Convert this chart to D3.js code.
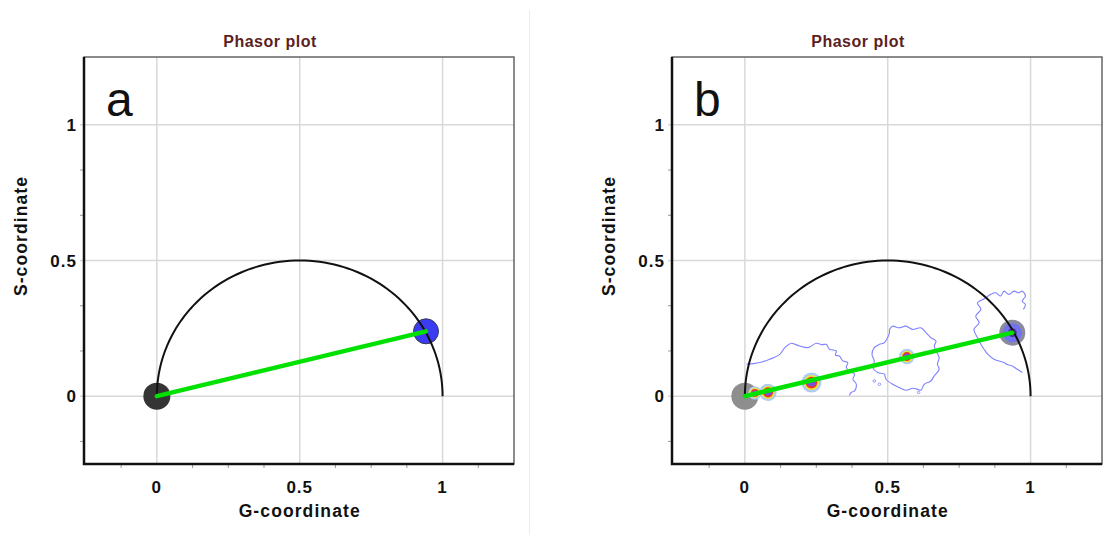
<!DOCTYPE html>
<html>
<head>
<meta charset="utf-8">
<script src="https://cdn.jsdelivr.net/npm/d3@7"></script>
<style>
body { margin: 0; background: #fff; }
svg { display: block; font-family: "Liberation Sans", Arial, sans-serif; }
.pp-tick { font-size: 17px; font-weight: bold; letter-spacing: 1px; fill: #111; }
.pp-axis-label { font-size: 17.5px; font-weight: bold; letter-spacing: 1.1px; fill: #111; }
.pp-title { font-size: 16px; font-weight: bold; letter-spacing: 0.5px; fill: #5c1f1f; }
.pp-letter { font-size: 48px; fill: #111; }
</style>
</head>
<body>
<svg id="chart" width="1103" height="535"></svg>
<script>
'use strict';

// axes
const gDomain = [-0.255, 1.25];
const sDomain = [-0.25, 1.25];
const majorTicks = [0, 0.5, 1];
const tickLabels = ['0', '0.5', '1'];
const minorTicksG = [-0.125, 0.125, 0.25, 0.375, 0.625, 0.75, 0.875, 1.125];
const minorTicksS = [-1 / 6, 1 / 6, 1 / 3, 2 / 3, 5 / 6];

// pure lifetime references joined by the green line
const endpointsA = [[0, 0], [0.942, 0.239]];
const endpointsB = [[0, 0], [0.936, 0.234]];

// density peaks of the measured cells (panel b)
const peakG = [0.035, 0.081, 0.233, 0.567];
const peakS = [0.012, 0.014, 0.05, 0.146];
const peakDensity = [0.45, 0.75, 1, 0.6];

// lowest contour level
const contourLeft = [[0.006, 0.118], [0.03, 0.12], [0.052, 0.124], [0.087, 0.136], [0.122, 0.154], [0.14, 0.179],
    [0.163, 0.195], [0.178, 0.19], [0.192, 0.185], [0.221, 0.179], [0.25, 0.195], [0.27, 0.19], [0.285, 0.191],
    [0.296, 0.173], [0.32, 0.167], [0.317, 0.151], [0.331, 0.148], [0.343, 0.13], [0.36, 0.124], [0.355, 0.105],
    [0.366, 0.093], [0.384, 0.081], [0.378, 0.0625], [0.39, 0.044], [0.384, 0.0195], [0.372, 0.0136], [0.366, 0.002]];
const contourMid = [[0.506, 0.246], [0.517, 0.258], [0.54, 0.252], [0.564, 0.258], [0.587, 0.246], [0.616, 0.252],
    [0.634, 0.234], [0.651, 0.216], [0.669, 0.203], [0.663, 0.185], [0.669, 0.167], [0.68, 0.142], [0.674, 0.118],
    [0.68, 0.099], [0.663, 0.075], [0.651, 0.056], [0.628, 0.044], [0.616, 0.022], [0.6, 0.027], [0.587, 0.029],
    [0.564, 0.022], [0.54, 0.032], [0.517, 0.044], [0.494, 0.0625], [0.488, 0.081], [0.465, 0.087], [0.448, 0.105],
    [0.453, 0.13], [0.445, 0.154], [0.453, 0.179], [0.471, 0.191], [0.488, 0.197], [0.5, 0.216], [0.506, 0.234],
    [0.506, 0.246]];
const contourRight = [[0.971, 0.087], [0.953, 0.099], [0.936, 0.111], [0.92, 0.116], [0.907, 0.124], [0.872, 0.136],
    [0.85, 0.155], [0.837, 0.173], [0.826, 0.191], [0.814, 0.216], [0.802, 0.246], [0.82, 0.271], [0.808, 0.295],
    [0.826, 0.32], [0.814, 0.344], [0.84, 0.36], [0.86, 0.375], [0.878, 0.381], [0.895, 0.369], [0.907, 0.387],
    [0.924, 0.375], [0.942, 0.387], [0.959, 0.381], [0.971, 0.387], [0.982, 0.369], [0.971, 0.35], [0.982, 0.338],
    [0.975, 0.32]];
const contourSpecks = [[0.453, 0.056], [0.471, 0.044], [0.608, 0.014]];

let PhasorPlot = function (params, svg) {
    let _self = this;
    _self.svg = svg;
    _self.offset = params.offset || 0;
    _self.letter = params.letter;
    _self.faded = params.faded || false;
    _self.endpoints = params.endpoints;

    _self.left = 84 + _self.offset;
    _self.right = 514 + _self.offset;
    _self.top = 57;
    _self.bottom = 464;

    _self.x = d3.scaleLinear().domain(gDomain).range([_self.left, _self.right]);
    _self.y = d3.scaleLinear().domain(sDomain).range([_self.bottom, _self.top]);
};

PhasorPlot.prototype.render = function () {
    let _self = this;
    let x = _self.x, y = _self.y;

    _self.g = _self.svg.append('g').attr('class', 'pp-plot');

    // grid
    _self.g.selectAll('line.pp-gx').data(majorTicks).join('line')
        .attr('class', 'pp-gx')
        .attr('x1', d => x(d)).attr('x2', d => x(d))
        .attr('y1', _self.top).attr('y2', _self.bottom)
        .attr('stroke', '#d8d8d8').attr('stroke-width', 1.5);
    _self.g.selectAll('line.pp-gy').data(majorTicks).join('line')
        .attr('class', 'pp-gy')
        .attr('x1', _self.left - 4).attr('x2', _self.right)
        .attr('y1', d => y(d)).attr('y2', d => y(d))
        .attr('stroke', '#d8d8d8').attr('stroke-width', 1.5);

    // minor ticks
    _self.g.selectAll('line.pp-mx').data(minorTicksG).join('line')
        .attr('class', 'pp-mx')
        .attr('x1', d => x(d)).attr('x2', d => x(d))
        .attr('y1', _self.bottom).attr('y2', _self.bottom + 4)
        .attr('stroke', '#999');
    _self.g.selectAll('line.pp-my').data(minorTicksS).join('line')
        .attr('class', 'pp-my')
        .attr('x1', _self.left - 4).attr('x2', _self.left)
        .attr('y1', d => y(d)).attr('y2', d => y(d))
        .attr('stroke', '#999');

    // frame: light top/right, heavy left/bottom
    _self.g.append('rect')
        .attr('x', _self.left).attr('y', _self.top)
        .attr('width', _self.right - _self.left).attr('height', _self.bottom - _self.top)
        .attr('fill', 'none').attr('stroke', '#666').attr('stroke-width', 1.5);
    _self.g.append('path')
        .attr('d', 'M' + _self.left + ',' + _self.top + 'V' + _self.bottom + 'H' + _self.right)
        .attr('fill', 'none').attr('stroke', '#111').attr('stroke-width', 2.5);

    // tick labels
    _self.g.selectAll('text.pp-tx').data(majorTicks).join('text')
        .attr('class', 'pp-tick pp-tx')
        .attr('x', d => x(d)).attr('y', _self.bottom + 29)
        .attr('text-anchor', 'middle')
        .text((d, i) => tickLabels[i]);
    _self.g.selectAll('text.pp-ty').data(majorTicks).join('text')
        .attr('class', 'pp-tick pp-ty')
        .attr('x', _self.left - 7).attr('y', d => y(d))
        .attr('dy', '.36em')
        .attr('text-anchor', 'end')
        .text((d, i) => tickLabels[i]);

    _self.g.append('text')
        .attr('class', 'pp-axis-label')
        .attr('x', x(0.5)).attr('y', 517)
        .attr('text-anchor', 'middle')
        .text('G-coordinate');
    _self.g.append('text')
        .attr('class', 'pp-axis-label')
        .attr('transform', 'translate(' + (27 + _self.offset) + ',236)rotate(-90)')
        .attr('text-anchor', 'middle')
        .text('S-coordinate');

    _self.g.append('text')
        .attr('class', 'pp-title')
        .attr('x', 270 + _self.offset).attr('y', 47)
        .attr('text-anchor', 'middle')
        .text('Phasor plot');
    _self.g.append('text')
        .attr('class', 'pp-letter')
        .attr('x', _self.left + 22).attr('y', 116)
        .text(_self.letter);

    _self.plot = _self.g.append('g');
};

PhasorPlot.prototype.renderContours = function () {
    let _self = this;
    let line = d3.line().x(d => _self.x(d[0])).y(d => _self.y(d[1])).curve(d3.curveCatmullRom);

    _self.plot.selectAll('path.pp-contour')
        .data([contourLeft, contourMid, contourRight])
        .join('path')
        .attr('class', 'pp-contour')
        .attr('d', line)
        .attr('fill', 'none')
        .attr('stroke', '#7f82ff')
        .attr('stroke-width', 1.1);

    _self.plot.selectAll('circle.pp-speck').data(contourSpecks).join('circle')
        .attr('class', 'pp-speck')
        .attr('cx', d => _self.x(d[0])).attr('cy', d => _self.y(d[1]))
        .attr('r', 1.3)
        .attr('fill', 'none').attr('stroke', '#7f82ff').attr('stroke-width', 0.8);
};

PhasorPlot.prototype.renderEndpoints = function () {
    let _self = this;
    let p0 = _self.endpoints[0], p1 = _self.endpoints[1];

    _self.plot.append('circle')
        .attr('cx', _self.x(p0[0])).attr('cy', _self.y(p0[1]))
        .attr('r', 13.5)
        .attr('fill', _self.faded ? '#8e8e8e' : '#353535');

    if (_self.faded) {
        _self.plot.append('circle')
            .attr('cx', _self.x(p1[0])).attr('cy', _self.y(p1[1]))
            .attr('r', 13).attr('fill', '#8b8b9e');
        _self.plot.append('circle')
            .attr('cx', _self.x(p1[0])).attr('cy', _self.y(p1[1]))
            .attr('r', 9.5).attr('fill', '#7272f0');
        _self.plot.append('circle')
            .attr('cx', _self.x(p1[0])).attr('cy', _self.y(p1[1]))
            .attr('r', 4.5).attr('fill', '#5a2ca0');
        _self.plot.append('circle')
            .attr('cx', _self.x(p1[0])).attr('cy', _self.y(p1[1]))
            .attr('r', 2).attr('fill', '#e02828');
    } else {
        _self.plot.append('circle')
            .attr('cx', _self.x(p1[0])).attr('cy', _self.y(p1[1]))
            .attr('r', 12.5)
            .attr('fill', '#3b3bf2').attr('stroke', '#3a3a55').attr('stroke-width', 1);
    }
};

PhasorPlot.prototype.renderPeaks = function () {
    let _self = this;
    let r = d3.scaleSqrt().domain([0, 1]).range([0, 10]);
    let rings = [
        {f: 1, c: '#aecbf6'},
        {f: 0.76, c: '#e8e63c'},
        {f: 0.58, c: '#f5301f'},
        {f: 0.4, c: '#7a4fe0'}
    ];
    let data = peakG.map((g, i) => ({g: g, s: peakS[i], d: peakDensity[i]}));

    rings.forEach(function (ring) {
        _self.plot.selectAll(null).data(data).join('circle')
            .attr('cx', d => _self.x(d.g)).attr('cy', d => _self.y(d.s))
            .attr('r', d => r(d.d) * ring.f)
            .attr('fill', ring.c);
    });
};

PhasorPlot.prototype.renderUniversal = function () {
    let _self = this;
    // universal semicircle: centre (0.5, 0), radius 0.5
    let angles = d3.range(0, 181, 2).map(a => a * Math.PI / 180);
    let arc = d3.line()
        .x(a => _self.x(0.5 + 0.5 * Math.cos(a)))
        .y(a => _self.y(0.5 * Math.sin(a)));

    _self.plot.append('path')
        .attr('d', arc(angles))
        .attr('fill', 'none').attr('stroke', '#111').attr('stroke-width', 2);

    _self.plot.append('line')
        .attr('x1', _self.x(_self.endpoints[0][0])).attr('y1', _self.y(_self.endpoints[0][1]))
        .attr('x2', _self.x(_self.endpoints[1][0])).attr('y2', _self.y(_self.endpoints[1][1]))
        .attr('stroke', '#00e100').attr('stroke-width', 4.5).attr('stroke-linecap', 'round');
};

let svg = d3.select('#chart');

svg.append('line')
    .attr('x1', 529.5).attr('x2', 529.5).attr('y1', 10).attr('y2', 535)
    .attr('stroke', '#ececec');

let plotA = new PhasorPlot({offset: 0, letter: 'a', endpoints: endpointsA}, svg);
plotA.render();
plotA.renderEndpoints();
plotA.renderUniversal();

let plotB = new PhasorPlot({offset: 588, letter: 'b', endpoints: endpointsB, faded: true}, svg);
plotB.render();
plotB.renderContours();
plotB.renderEndpoints();
plotB.renderPeaks();
plotB.renderUniversal();
</script>
</body>
</html>
